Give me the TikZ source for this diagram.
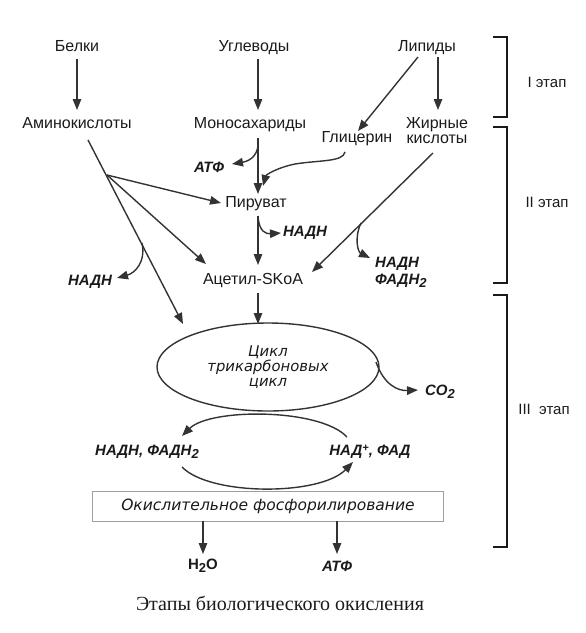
\documentclass[tikz,border=0pt]{standalone}
\usepackage{fontspec}
\setmainfont{Liberation Sans}
\newfontfamily\serifcap{Liberation Serif}
\newfontfamily\wideit{DejaVu Sans}
\usetikzlibrary{arrows.meta,shapes.geometric}
\definecolor{ln}{HTML}{333333}
\definecolor{tx}{HTML}{1A1A1A}
\newcommand{\lowtwo}{\raisebox{-0.35ex}{\fontsize{13}{13}\selectfont 2}}
\newcommand{\hiplus}{\raisebox{0.55ex}{\fontsize{11}{11}\selectfont +}}
\tikzset{
  lbl/.style={font=\fontsize{16}{16}\selectfont, text=tx, inner sep=3pt, text height=11.5pt, text depth=3pt},
  bi/.style={font=\fontsize{15}{15}\selectfont\bfseries\itshape, text=tx, inner sep=2pt},
  stage/.style={font=\fontsize{15}{15}\selectfont, text=tx, inner sep=0pt},
  arr/.style={draw=ln, line width=1.4pt, -{Triangle[length=11pt,width=8.5pt]}},
  brk/.style={draw=tx, line width=1.5pt},
}
\begin{document}
\begin{tikzpicture}[x=1pt,y=-1pt]
\useasboundingbox (0,0) rectangle (586,633);
% nodes
\node[lbl] (belki) at (77,47) {Белки};
\node[lbl] (ugl) at (254,47) {Углеводы};
\node[lbl] (lip) at (427,47) {Липиды};
\node[lbl] (amino) at (77,124) {Аминокислоты};
\node[lbl] (mono) at (250,124) {Моносахариды};
\node[lbl] (glyc) at (357,138) {Глицерин};
\node[lbl, align=center, text height=, text depth=, font=\fontsize{16}{15}\selectfont] (zhir) at (437,131) {Жирные\\кислоты};
\node[bi] (atf1) at (209,167) {АТФ};
\node[lbl] (pir) at (256,203) {Пируват};
\node[bi] (nadh1) at (305,233) {НАДН};
\node[bi] (nadh0) at (90,282) {НАДН};
\node[bi, align=left, anchor=north west, font=\fontsize{15}{17}\selectfont\bfseries\itshape] (nadh2) at (373,255) {НАДН\\ФАДН\lowtwo};
\node[lbl] (acet) at (253,280) {Ацетил-SKoA};
\node[ellipse, draw=ln, line width=1.4pt, minimum width=222pt, minimum height=88pt, inner sep=0pt] (cycle) at (268,367) {};
\node[font=\wideit\fontsize{14.8}{15}\selectfont\itshape, text=tx, align=center] (cyctxt) at (268,367) {Цикл\\трикарбоновых\\цикл};
\node[bi] (co2) at (440,392) {CO\lowtwo};
\node[bi] (nadh3) at (147,452) {НАДН, ФАДН\lowtwo};
\node[bi] (nad) at (370,452) {НАД\hiplus, ФАД};
\node[draw=gray!75, line width=1pt, minimum width=351pt, minimum height=30pt, inner sep=0pt,
      font=\wideit\fontsize{15.5}{15.5}\selectfont\itshape, text=tx] (ox) at (268,506) {Окислительное фосфорилирование};
\node[bi, font=\fontsize{15}{15}\selectfont\bfseries] (h2o) at (203,566) {H\lowtwo O};
\node[bi] (atf2) at (337,566) {АТФ};
\node[font=\serifcap\fontsize{20}{20}\selectfont, text=tx] (cap) at (280,603) {Этапы биологического окисления};
\node[stage] (s1) at (547,82) {I этап};
\node[stage] (s2) at (547,202) {II этап};
\node[stage] (s3) at (544,409) {III\ \ этап};
% stem coordinates
\coordinate (sx) at (258,0);
% vertical arrows
\draw[arr] (belki.south) ++(0,2) -- (77,110);
\draw[arr] (ugl.south -| sx) ++(0,2) -- (258,110);
\draw[arr] (438,57) -- (438,110);
\draw[arr] (418,57) -- (358,131);
% mono -> pir with ATP branch
\coordinate (m1) at (258,138);
\draw[arr] (m1) -- (258,194);
\draw[arr] (m1) .. controls (260,155) and (250,161) .. (232,164);
% glycerin -> pir
\coordinate (g1) at (345,152);
\draw[arr] (g1) .. controls (343,162) and (320,160) .. (295,164) .. controls (276,168) and (266,175) .. (263,186);
% amino lines
\coordinate (a1) at (88,140);
\coordinate (fan) at (107,175);
\coordinate (a2) at (142,243);
\draw[arr] (a1) -- (183,324);
\draw[arr] (fan) -- (221,203);
\draw[arr] (fan) -- (206,264);
\draw[arr] (a2) .. controls (146,262) and (135,273) .. (117,278);
% pir -> acet with NADH
\coordinate (p1) at (258,216);
\draw[arr] (p1) -- (258,265);
\draw[arr] (p1) .. controls (259,232) and (266,234) .. (281,233);
% zhir -> acet
\coordinate (z1) at (433,153);
\coordinate (z2) at (361,223);
\draw[arr] (z1) -- (312,272);
\draw[arr] (z2) .. controls (354,238) and (358,252) .. (370,258);
% acet -> cycle
\draw[arr] (258,293) -- (258,324);
% CO2
\draw[arr] (376,362) .. controls (384,385) and (398,391) .. (418,390);
% arcs
\draw[arr] (347,437) .. controls (320,408) and (210,408) .. (182,436);
\draw[arr] (182,467) .. controls (210,496) and (320,496) .. (353,462);
% from box
\draw[arr] (203,521) -- (203,554);
\draw[arr] (337,521) -- (337,554);
% brackets
\draw[brk] (493,37) -- (507,37) -- (507,117) -- (493,117);
\draw[brk] (493,127) -- (507,127) -- (507,283) -- (493,283);
\draw[brk] (493,295) -- (507,295) -- (507,547) -- (493,547);
\end{tikzpicture}
\end{document}
